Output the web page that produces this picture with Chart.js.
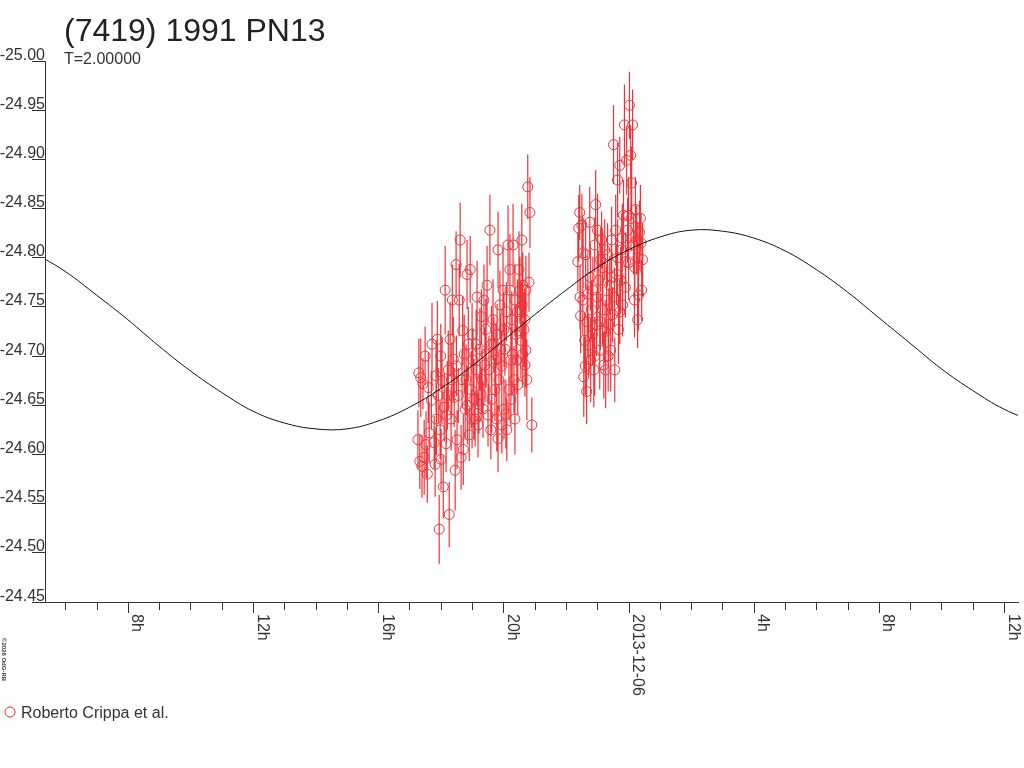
<!DOCTYPE html>
<html>
<head>
<meta charset="utf-8">
<title>(7419) 1991 PN13</title>
<script src="https://cdn.jsdelivr.net/npm/chart.js@4.4.1/dist/chart.umd.min.js"></script>
<style>
  html, body { margin: 0; padding: 0; background: #fff; }
  #wrap { width: 1024px; height: 768px; }
</style>
</head>
<body>
<div id="wrap"><canvas id="lc" width="1024" height="768"></canvas></div>
<script>
// Light curve of (7419) 1991 PN13, hours counted from 2013-12-05 00:00 UT

const curveHours = [5, 6, 7, 8, 9, 10, 11, 12, 13, 14, 15, 16, 17, 18, 19, 20, 21,
  22, 23, 24, 25, 26, 27, 28, 29, 30, 31, 32, 33, 34, 35, 36, 37];
const curveMags = [-24.805, -24.786, -24.762, -24.737, -24.710, -24.685, -24.663, -24.644,
  -24.632, -24.626, -24.626, -24.634, -24.648, -24.667, -24.690, -24.716, -24.742,
  -24.767, -24.790, -24.808, -24.821, -24.828, -24.827, -24.820, -24.807, -24.788,
  -24.765, -24.739, -24.713, -24.687, -24.665, -24.646, -24.633];

// first night of observations
const nightAHours = [
  17.27, 17.30, 17.33, 17.36, 17.40, 17.43, 17.47, 17.50, 17.53, 17.57,
  17.60, 17.63, 17.72, 17.79, 17.82, 17.89, 17.95, 17.98, 18.04, 18.08,
  17.92, 17.86, 18.01, 18.11, 18.14, 18.17, 18.24, 18.27, 18.30, 18.37,
  18.43, 18.46, 18.49, 18.56, 18.59, 18.33, 18.21, 18.40, 18.52, 18.62,
  18.65, 18.68, 18.72, 18.75, 18.78, 18.84, 18.88, 18.91, 18.94, 18.97,
  19.03, 18.81, 19.00, 19.06, 19.10, 19.13, 19.16, 19.19, 19.22, 19.25,
  19.32, 19.35, 19.38, 19.44, 19.48, 19.54, 19.29, 19.41, 19.51, 19.57,
  19.60, 19.63, 19.67, 19.70, 19.76, 19.79, 19.83, 19.86, 19.89, 19.95,
  19.99, 19.73, 19.92, 20.02, 19.83, 20.02, 20.05, 20.08, 20.15, 20.18,
  20.21, 20.24, 20.27, 20.31, 20.34, 20.37, 20.40, 20.43, 20.50, 20.11,
  20.24, 20.37, 20.46, 20.21, 20.53, 20.56, 20.59, 20.62, 20.66, 20.69,
  20.72, 20.75, 20.78, 20.82, 20.85, 20.91, 20.56, 20.69, 20.62,
  17.70, 17.85, 18.00, 18.18, 18.35, 18.50, 18.70, 18.85, 19.00, 19.15,
  19.30, 19.45, 19.62, 19.80, 19.95, 20.10, 20.28, 20.45, 20.60, 20.72
];
const nightAMags = [
  -24.615, -24.683, -24.593, -24.678, -24.588, -24.672, -24.597, -24.700, -24.610, -24.580,
  -24.668, -24.622, -24.712, -24.612, -24.590, -24.717, -24.524, -24.625, -24.675, -24.567,
  -24.660, -24.636, -24.595, -24.648, -24.767, -24.611, -24.686, -24.539, -24.717, -24.757,
  -24.658, -24.584, -24.793, -24.660, -24.757, -24.636, -24.660, -24.697, -24.615, -24.818,
  -24.597, -24.676, -24.605, -24.702, -24.646, -24.783, -24.712, -24.620, -24.788, -24.666,
  -24.696, -24.676, -24.636, -24.656, -24.636, -24.712, -24.760, -24.630, -24.651, -24.707,
  -24.676, -24.646, -24.757, -24.727, -24.772, -24.686, -24.661, -24.691, -24.640, -24.828,
  -24.625, -24.656, -24.737, -24.712, -24.696, -24.636, -24.808, -24.676, -24.752, -24.630,
  -24.767, -24.666, -24.707, -24.646, -24.616, -24.727, -24.707, -24.641, -24.813, -24.666,
  -24.788, -24.696, -24.737, -24.813, -24.676, -24.757, -24.722, -24.696, -24.788, -24.625,
  -24.656, -24.636, -24.671, -24.767, -24.767, -24.747, -24.818, -24.772, -24.727, -24.737,
  -24.767, -24.676, -24.872, -24.775, -24.846, -24.630, -24.716, -24.691, -24.702,
  -24.655, -24.680, -24.700, -24.640, -24.676, -24.690, -24.726, -24.650, -24.722, -24.686,
  -24.740, -24.702, -24.712, -24.722, -24.690, -24.745, -24.702, -24.745, -24.752, -24.706
];
const nightAErrs = [
  0.030, 0.035, 0.028, 0.040, 0.032, 0.026, 0.038, 0.030, 0.034, 0.029,
  0.036, 0.031, 0.042, 0.027, 0.033, 0.039, 0.035, 0.030, 0.044, 0.032,
  0.028, 0.037, 0.031, 0.035, 0.045, 0.029, 0.040, 0.033, 0.038, 0.036,
  0.030, 0.041, 0.034, 0.028, 0.037, 0.032, 0.035, 0.043, 0.030, 0.038,
  0.033, 0.029, 0.036, 0.040, 0.031, 0.035, 0.038, 0.027, 0.034, 0.039,
  0.032, 0.036, 0.030, 0.041, 0.028, 0.035, 0.037, 0.033, 0.030, 0.042,
  0.034, 0.029, 0.036, 0.031, 0.040, 0.035, 0.027, 0.038, 0.032, 0.036,
  0.030, 0.034, 0.041, 0.028, 0.037, 0.033, 0.039, 0.031, 0.035, 0.029,
  0.043, 0.032, 0.036, 0.030, 0.034, 0.038, 0.027, 0.035, 0.040, 0.031,
  0.036, 0.033, 0.029, 0.042, 0.034, 0.037, 0.030, 0.035, 0.039, 0.032,
  0.028, 0.036, 0.031, 0.040, 0.034, 0.029, 0.037, 0.033, 0.038, 0.030,
  0.035, 0.041, 0.033, 0.030, 0.036, 0.028, 0.039, 0.032, 0.034,
  0.030, 0.036, 0.033, 0.029, 0.038, 0.031, 0.035, 0.040, 0.032, 0.037,
  0.028, 0.034, 0.039, 0.031, 0.036, 0.030, 0.042, 0.033, 0.035, 0.038
];

// second run, just before and after midnight
const nightBHours = [
  22.38, 22.41, 22.44, 22.47, 22.51, 22.54, 22.57, 22.60, 22.63, 22.66,
  22.70, 22.73, 22.76, 22.79, 22.82, 22.86, 22.89, 22.92, 22.95, 22.98,
  23.01, 23.05, 23.08, 23.11, 23.14, 23.17, 23.21, 23.24, 23.27, 23.30,
  23.33, 23.37, 23.40, 23.43, 23.46, 23.49, 23.52, 23.56, 23.59, 23.62,
  23.65, 23.68, 23.72, 23.75, 23.78, 23.81, 23.84, 23.87, 23.91, 23.94,
  23.97, 24.00, 24.03, 24.07, 24.10, 24.13, 24.16, 24.19, 24.22, 24.26,
  24.29, 24.32, 24.35, 24.38, 24.42, 24.45,
  22.45, 22.55, 22.62, 22.68, 22.78, 22.85, 22.92, 23.00, 23.10, 23.18,
  23.25, 23.35, 23.45, 23.55, 23.65, 23.72, 23.80, 23.90, 24.00, 24.08,
  24.20, 24.30, 24.40
];
const nightBMags = [
  -24.796, -24.830, -24.846, -24.741, -24.833, -24.757, -24.679, -24.716, -24.803, -24.664,
  -24.763, -24.711, -24.836, -24.696, -24.747, -24.767, -24.686, -24.813, -24.854, -24.732,
  -24.828, -24.777, -24.706, -24.798, -24.818, -24.747, -24.691, -24.808, -24.686, -24.757,
  -24.803, -24.732, -24.772, -24.706, -24.818, -24.742, -24.915, -24.686, -24.828, -24.783,
  -24.879, -24.727, -24.894, -24.777, -24.808, -24.752, -24.843, -24.935, -24.796, -24.899,
  -24.828, -24.843, -24.955, -24.904, -24.876, -24.935, -24.813, -24.757, -24.849, -24.818,
  -24.737, -24.762, -24.826, -24.840, -24.767, -24.798,
  -24.760, -24.805, -24.690, -24.735, -24.780, -24.722, -24.700, -24.760, -24.735, -24.790,
  -24.725, -24.700, -24.780, -24.760, -24.800, -24.745, -24.820, -24.770, -24.795, -24.840,
  -24.790, -24.800, -24.815
];
const nightBErrs = [
  0.030, 0.034, 0.028, 0.038, 0.032, 0.036, 0.041, 0.029, 0.035, 0.033,
  0.039, 0.031, 0.036, 0.043, 0.030, 0.034, 0.038, 0.028, 0.035, 0.032,
  0.037, 0.030, 0.040, 0.033, 0.029, 0.036, 0.034, 0.031, 0.039, 0.035,
  0.032, 0.037, 0.030, 0.042, 0.034, 0.028, 0.040, 0.033, 0.036, 0.031,
  0.038, 0.035, 0.029, 0.034, 0.037, 0.032, 0.036, 0.041, 0.030, 0.035,
  0.033, 0.039, 0.034, 0.031, 0.037, 0.036, 0.030, 0.038, 0.033, 0.035,
  0.029, 0.036, 0.032, 0.034, 0.031, 0.037,
  0.033, 0.036, 0.030, 0.038, 0.034, 0.031, 0.040, 0.035, 0.029, 0.037,
  0.032, 0.036, 0.034, 0.030, 0.039, 0.033, 0.035, 0.031, 0.038, 0.034,
  0.032, 0.036, 0.030
];

// axes
const yTickValues = [-25.00, -24.95, -24.90, -24.85, -24.80, -24.75, -24.70,
  -24.65, -24.60, -24.55, -24.50, -24.45];
const hourTicks = [6, 7, 8, 9, 10, 11, 12, 13, 14, 15, 16, 17, 18, 19, 20, 21, 22,
  23, 24, 25, 26, 27, 28, 29, 30, 31, 32, 33, 34, 35, 36];
const majorHours = [8, 12, 16, 20, 24, 28, 32, 36];
const majorLabels = ['8h', '12h', '16h', '20h', '2013-12-06', '4h', '8h', '12h'];

const FONT = '"Liberation Sans", Arial, Helvetica, sans-serif';
const INK = '#333';
const RED = '#ee3338';

const obsHours = nightAHours.concat(nightBHours);
const obsMags = nightAMags.concat(nightBMags);
const obsErrs = nightAErrs.concat(nightBErrs);
if (obsHours.length !== obsMags.length || obsMags.length !== obsErrs.length) {
    console.warn('data length mismatch', obsHours.length, obsMags.length, obsErrs.length);
}

// error bars under the circles, axis decoration and texts on top
const decorations = {
    id: 'decorations',
    beforeDatasetsDraw(chart) {
        const { ctx, chartArea: a, scales: { x, y } } = chart;
        ctx.save();
        ctx.beginPath();
        ctx.rect(a.left, a.top, a.right - a.left, a.bottom - a.top);
        ctx.clip();
        ctx.strokeStyle = RED;
        ctx.lineWidth = 1.2;
        ctx.beginPath();
        obsHours.forEach((h, i) => {
            const px = x.getPixelForValue(h);
            ctx.moveTo(px, y.getPixelForValue(obsMags[i] - obsErrs[i]));
            ctx.lineTo(px, y.getPixelForValue(obsMags[i] + obsErrs[i]));
        });
        ctx.stroke();
        ctx.restore();
    },
    afterDraw(chart) {
        const { ctx, chartArea: a, scales: { x, y } } = chart;
        ctx.save();
        ctx.fillStyle = INK;
        ctx.strokeStyle = INK;
        ctx.lineWidth = 1;

        // title
        ctx.textAlign = 'left';
        ctx.textBaseline = 'alphabetic';
        ctx.fillStyle = '#222';
        ctx.font = '32px ' + FONT;
        ctx.fillText('(7419) 1991 PN13', 64, 41);
        ctx.fillStyle = INK;
        ctx.font = '16px ' + FONT;
        ctx.fillText('T=2.00000', 64, 64);

        // y labels sit just above their tick
        ctx.textAlign = 'right';
        y.ticks.forEach(t => {
            ctx.fillText(t.value.toFixed(2), a.left, y.getPixelForValue(t.value) - 1.5);
        });

        // hourly ticks, longer every 4h
        hourTicks.forEach(h => {
            const px = Math.round(x.getPixelForValue(h)) + 0.5;
            const len = majorHours.includes(h) ? 11 : 8;
            ctx.beginPath();
            ctx.moveTo(px, a.bottom);
            ctx.lineTo(px, a.bottom + len);
            ctx.stroke();
        });

        // rotated time labels, reading downwards
        ctx.textAlign = 'left';
        ctx.textBaseline = 'bottom';
        majorHours.forEach((h, i) => {
            ctx.save();
            ctx.translate(x.getPixelForValue(h) + 1, a.bottom + 12);
            ctx.rotate(Math.PI / 2);
            ctx.fillText(majorLabels[i], 0, 0);
            ctx.restore();
        });

        // copyright strip
        ctx.save();
        ctx.font = 'bold 6px ' + FONT;
        ctx.translate(1, 638);
        ctx.rotate(Math.PI / 2);
        ctx.fillText('\u00A92026 OdG-RB', 0, 0);
        ctx.restore();

        // legend
        ctx.strokeStyle = RED;
        ctx.beginPath();
        ctx.arc(10, 712, 5, 0, Math.PI * 2);
        ctx.stroke();
        ctx.textBaseline = 'alphabetic';
        ctx.font = '16px ' + FONT;
        ctx.fillText('Roberto Crippa et al.', 21, 718);
        ctx.restore();
    }
};

new Chart(document.getElementById('lc'), {
    type: 'scatter',
    data: {
        datasets: [
            {
                label: 'model',
                data: curveHours.map((h, i) => ({ x: h, y: curveMags[i] })),
                showLine: true,
                borderColor: '#111',
                borderWidth: 1,
                pointRadius: 0,
                tension: 0.4
            },
            {
                label: 'Roberto Crippa et al.',
                data: obsHours.map((h, i) => ({ x: h, y: obsMags[i] })),
                pointStyle: 'circle',
                pointRadius: 5,
                borderColor: RED,
                backgroundColor: 'rgba(0,0,0,0)',
                borderWidth: 1
            }
        ]
    },
    options: {
        responsive: false,
        animation: false,
        events: [],
        layout: { padding: { top: 61, right: 4, left: 0, bottom: 0 } },
        plugins: { legend: { display: false }, tooltip: { enabled: false }, title: { display: false } },
        scales: {
            x: {
                type: 'linear',
                min: 5.353,
                max: 36.446,
                afterBuildTicks: s => { s.ticks = hourTicks.map(v => ({ value: v })); },
                afterFit: s => { s.height = 166; },
                ticks: { display: false },
                grid: { display: false },
                border: { display: true, color: INK, width: 1 }
            },
            y: {
                type: 'linear',
                reverse: true,
                min: -25.00,
                max: -24.45,
                afterBuildTicks: s => { s.ticks = yTickValues.map(v => ({ value: v })); },
                afterFit: s => { s.width = 45; },
                ticks: { display: false },
                grid: { display: true, drawOnChartArea: false, drawTicks: true, tickLength: 13, color: INK },
                border: { display: true, color: INK, width: 1 }
            }
        }
    },
    plugins: [decorations]
});
</script>
</body>
</html>
